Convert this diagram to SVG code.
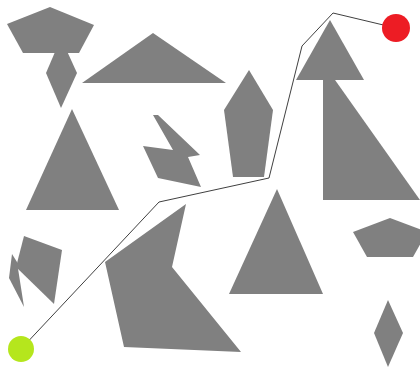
<svg xmlns="http://www.w3.org/2000/svg" width="420" height="367" viewBox="0 0 420 367">
<style>
.ob{fill:#808080;stroke:none}
.path{fill:none;stroke:#404040;stroke-width:1}
</style>
<rect width="420" height="367" fill="#ffffff"/>
<g id="obstacles">
<polygon id="o1" class="ob" points="61,38 77,73 61,108 46,73"/>
<polygon id="o2" class="ob" points="50,7 94,25 79,53 23,53 7,24"/>
<polygon id="o3" class="ob" points="153,33 226,83 82,83"/>
<polygon id="o4" class="ob" points="72,109 119,210 26,210"/>
<polygon id="o5" class="ob" points="153,115 158,115 200,155 188,157 201,187 158,178 143,146 173,150"/>
<polygon id="o6" class="ob" points="249,70 273,110 264,177 233,177 224,110"/>
<polygon id="o7" class="ob" points="323,63 420,200 323,200"/>
<polygon id="o8" class="ob" points="330,20 364,80 296,80"/>
<polygon id="o9" class="ob" points="186,204 172,267 241,352 124,347 105,262"/>
<polygon id="o10" class="ob" points="277,189 323,294 229,294"/>
<polygon id="o11" class="ob" points="390,218 427,232 413,257 367,257 353,232"/>
<polygon id="o12" class="ob" points="388,300 403,333 388,367 374,333"/>
<polygon id="o13" class="ob" points="24,236 62,250 54,304 16,267"/>
<polygon id="o14" class="ob" points="12,254 17,262 24,307 9,278"/>
</g>
<g id="connectors">
<polyline class="path" points="21,349 159,202 269,178 302,46 333,13 396,28"/>
</g>
<g id="start"><circle cx="21" cy="349" r="13" fill="#b5e61d"/></g>
<g id="goal"><circle cx="396" cy="28" r="14" fill="#ed1c24"/></g>
</svg>
